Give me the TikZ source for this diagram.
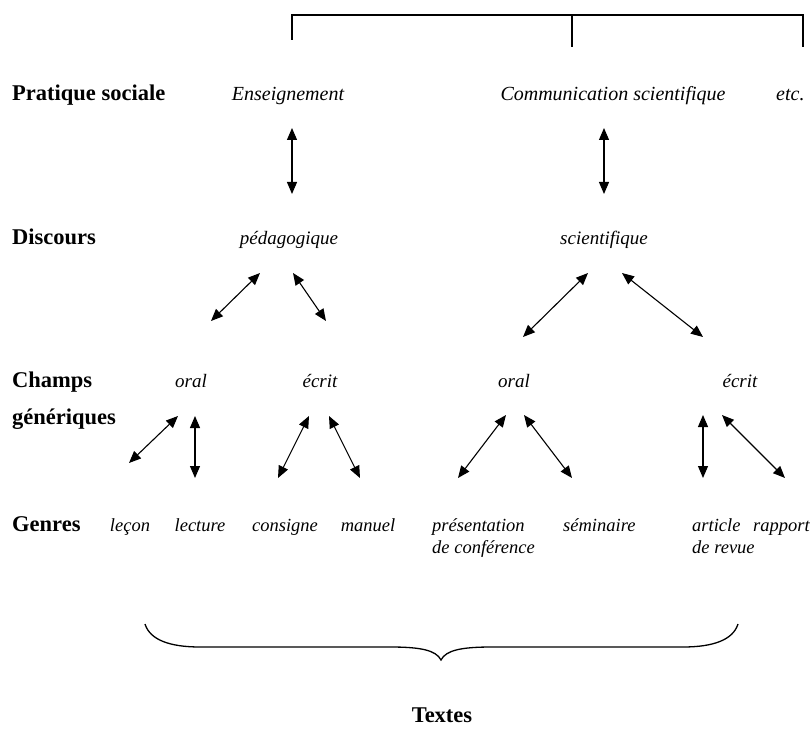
\documentclass[tikz,border=0pt]{standalone}
\usepackage{fontspec}
\setmainfont{Liberation Serif}
\usetikzlibrary{arrows.meta}
\begin{document}
\begin{tikzpicture}[x=1pt,y=-1pt,
  lab/.style={font=\fontsize{22.5}{25}\selectfont\bfseries, inner sep=0pt, anchor=base west},
  itm/.style={font=\fontsize{19}{22}\selectfont\itshape, inner sep=0pt, anchor=base},
  itb/.style={itm, font=\fontsize{20}{22}\selectfont\itshape},
  its/.style={itm, font=\fontsize{18.5}{21}\selectfont\itshape},
  dbl/.style={line width=1.1pt, {Triangle[length=12pt,width=10pt]}-{Triangle[length=12pt,width=10pt]}},
  ln/.style={line width=1.1pt}]
\useasboundingbox (0,0) rectangle (812,733);
% top bracket
\coordinate (b1) at (292,40);
\coordinate (b2) at (572,47);
\coordinate (b3) at (803,47);
\coordinate (bt1) at (292,15);
\coordinate (bt2) at (572,15);
\coordinate (bt3) at (803,15);
\draw[ln] (b1) -- (bt1) -- (bt3) -- (b3);
\draw[ln] (bt2) -- (b2);
% row labels
\node[lab] (ps) at (12,101) {Pratique sociale};
\node[lab] (di) at (12,244) {Discours};
\node[lab] (ch) at (12,387) {Champs};
\node[lab] (ge2) at (12,424) {génériques};
\node[lab] (gn) at (12,531) {Genres};
% row 1
\node[itb] (ens) at (288,101) {Enseignement};
\node[itb] (com) at (613,101) {Communication scientifique};
\node[itb,anchor=base west] (etc) at (776,101) {etc.};
% row 2
\node[itm] (ped) at (289,244) {pédagogique};
\node[itm] (sci) at (604,244) {scientifique};
% row 3
\node[itm] (or1) at (191,387) {oral};
\node[itm] (ec1) at (320,387) {écrit};
\node[itm] (or2) at (514,387) {oral};
\node[itm] (ec2) at (740,387) {écrit};
% row 4
\node[its] (lec) at (130,531) {leçon};
\node[its] (lct) at (200,531) {lecture};
\node[its] (cns) at (285,531) {consigne};
\node[its] (man) at (368,531) {manuel};
\node[its,anchor=base west] (pre) at (432,531) {présentation};
\node[its,anchor=base west] (pre2) at (432,553) {de conférence};
\node[its,anchor=base west] (sem) at (563,531) {séminaire};
\node[its,anchor=base west] (art) at (692,531) {article};
\node[its,anchor=base west] (art2) at (692,553) {de revue};
\node[its,anchor=base west] (rap) at (753,531) {rapport};
% arrows
\coordinate (a1s) at (292,128); \coordinate (a1e) at (292,194);
\coordinate (a2s) at (604,128); \coordinate (a2e) at (604,194);
\coordinate (a3s) at (260,273); \coordinate (a3e) at (211,321);
\coordinate (a4s) at (293,273); \coordinate (a4e) at (326,321);
\coordinate (a5s) at (588,273); \coordinate (a5e) at (523,337);
\coordinate (a6s) at (622,273); \coordinate (a6e) at (703,337);
\coordinate (a7s) at (178,416); \coordinate (a7e) at (129,463);
\coordinate (a8s) at (195,416); \coordinate (a8e) at (195,478);
\coordinate (a9s) at (309,416); \coordinate (a9e) at (278,478);
\coordinate (a10s) at (329,416); \coordinate (a10e) at (360,478);
\coordinate (a11s) at (506,415); \coordinate (a11e) at (458,478);
\coordinate (a12s) at (524,415); \coordinate (a12e) at (572,478);
\coordinate (a13s) at (703,415); \coordinate (a13e) at (703,478);
\coordinate (a14s) at (722,415); \coordinate (a14e) at (785,478);
\foreach \i in {1,...,14} { \draw[dbl] (a\i s) -- (a\i e); }
% brace
\coordinate (brL) at (145,624);
\coordinate (brR) at (738,624);
\coordinate (brT) at (441,660);
\draw[line width=1.3pt] (brL) .. controls (150,640) and (170,647) .. (200,647)
  -- (390,647) .. controls (420,647) and (436,650) .. (brT)
  .. controls (446,650) and (462,647) .. (492,647)
  -- (683,647) .. controls (713,647) and (733,640) .. (brR);
\node[lab,anchor=base] (tx) at (442,722) {Textes};
\end{tikzpicture}
\end{document}
